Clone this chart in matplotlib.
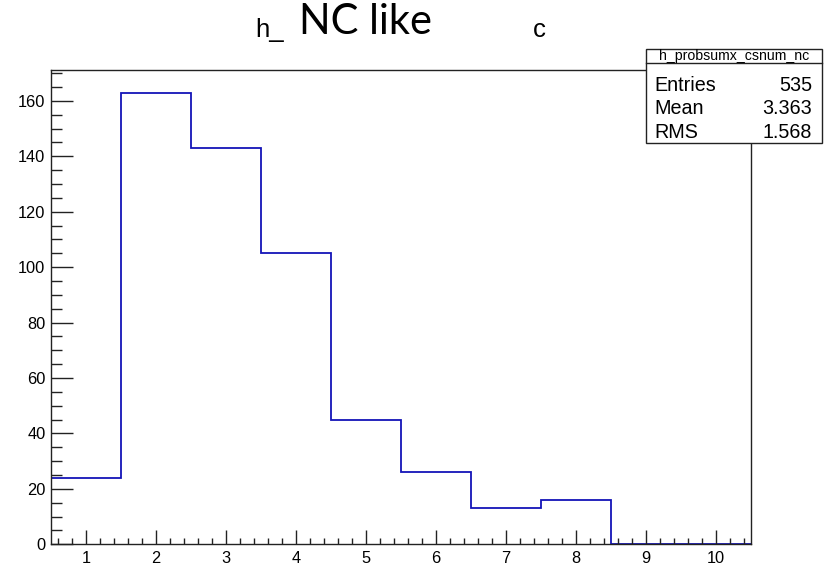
import numpy as np
import matplotlib.pyplot as plt
from matplotlib.patches import Rectangle
from matplotlib.lines import Line2D
from matplotlib.ticker import MultipleLocator

# histogram h_probsumx_csnum_nc: one bin per integer 1..10
bin_edges = np.arange(0.5, 11.0, 1.0)
bin_counts = [24, 163, 143, 105, 45, 26, 13, 16, 0, 0]
hist_name = "h_probsumx_csnum_nc"

W, H = 831, 567


def fx(px):
    return px / W


def fy(py):
    return 1 - py / H


centers = 0.5 * (bin_edges[:-1] + bin_edges[1:])
counts = np.array(bin_counts, dtype=float)
entries = int(counts.sum())
mean = (counts * centers).sum() / counts.sum()
rms = np.sqrt((counts * centers ** 2).sum() / counts.sum() - mean ** 2)

plt.rcParams["font.family"] = ["Liberation Sans", "DejaVu Sans"]

fig = plt.figure(figsize=(W / 100, H / 100), dpi=100)
ax = fig.add_axes([fx(51), fy(544.3), fx(750.7) - fx(51), fy(70) - fy(544.3)])

ax.stairs(counts, bin_edges, baseline=None, color="#1414b8", linewidth=1.3)

ax.set_xlim(0.5, 10.5)
ax.set_ylim(0, counts.max() * 1.05)

ax.xaxis.set_major_locator(MultipleLocator(1))
ax.xaxis.set_minor_locator(MultipleLocator(0.2))
ax.yaxis.set_major_locator(MultipleLocator(20))
ax.yaxis.set_minor_locator(MultipleLocator(5))

ax.tick_params(axis="both", which="both", direction="in", color="#222222",
               width=1.0, labelsize=11.8, top=False, right=False)
ax.tick_params(axis="x", which="major", length=10, pad=5)
ax.tick_params(axis="x", which="minor", length=4.5)
ax.tick_params(axis="y", which="major", length=16, pad=4)
ax.tick_params(axis="y", which="minor", length=8)

for s in ax.spines.values():
    s.set_color("#222222")
    s.set_linewidth(1.0)

# title pieces
fig.text(fx(255), fy(37), "h_", fontsize=18.5, ha="left", va="baseline")
fig.text(fx(533), fy(37), "c", fontsize=18.5, ha="left", va="baseline")
fig.text(fx(299), fy(34), "NC like", fontsize=30, family=["Lato", "DejaVu Sans"],
         ha="left", va="baseline")

# statistics box
bx0, bx1, by0, by1, bdiv = 645.7, 821.7, 49.3, 143.3, 63.3
fig.add_artist(Rectangle((fx(bx0), fy(by1)), fx(bx1) - fx(bx0), fy(by0) - fy(by1),
                         transform=fig.transFigure, facecolor="white",
                         edgecolor="#222222", linewidth=1.0, zorder=5))
fig.add_artist(Line2D([fx(bx0), fx(bx1)], [fy(bdiv), fy(bdiv)],
                      transform=fig.transFigure, color="#222222",
                      linewidth=1.0, zorder=6))
fig.text(fx((bx0 + bx1) / 2), fy(60), hist_name, fontsize=10.2,
         ha="center", va="baseline", zorder=7)

rows = [("Entries", f"{entries}"), ("Mean", f"{mean:.3f}"), ("RMS", f"{rms:.3f}")]
for i, (label, val) in enumerate(rows):
    yc = fy(85.5 + i * 23.3)
    fig.text(fx(654), yc, label, fontsize=14.2, ha="left", va="center", zorder=7)
    fig.text(fx(812), yc, val, fontsize=14.2, ha="right", va="center", zorder=7)

fig.savefig("out.png", dpi=100)
